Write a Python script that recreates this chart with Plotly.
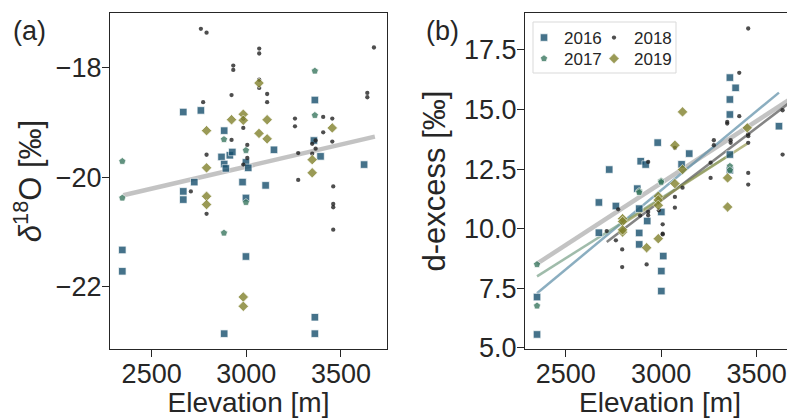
import plotly.graph_objects as go

# ---------------- data ----------------
# Panel (a): elevation [m] vs d18O [permil]
elev_a_2016 = [2667, 2760, 2883, 2869, 2913, 2926, 2883, 2892, 2998, 3010, 2980, 2998, 3102, 3146,
               2725, 2667, 2667, 2345, 2345, 2998, 2883, 3362, 3362, 3362, 3357, 3392, 3622]
d18o_2016 = [-18.81, -18.78, -19.15, -19.63, -19.60, -19.54, -19.76, -19.84, -19.73, -19.83, -20.09,
             -20.38, -20.15, -19.50, -20.09, -20.26, -20.41, -21.33, -21.72, -21.45, -22.86, -22.56,
             -22.86, -18.59, -19.33, -19.62, -19.77]

elev_a_2017 = [2345, 2345, 2882, 2882, 2998, 2998, 3362, 3362]
d18o_2017 = [-19.71, -20.38, -19.31, -21.02, -19.51, -20.46, -18.06, -18.87]

elev_a_2018 = [2760, 2790, 2790, 2790, 3068, 3068, 3068, 3068, 2931, 2931, 3674, 3639, 3639, 2772,
               2922, 2922, 3110, 3110, 2984, 2984, 2984, 3005, 3005, 3257, 3257, 3274, 3274, 3406,
               3406, 3454, 3454, 3348, 3348, 3366, 3366, 3459, 3459, 3459, 3459, 2707]
d18o_2018 = [-17.29, -17.36, -19.59, -20.67, -17.65, -17.74, -18.22, -18.37, -17.96, -18.04, -17.63,
             -18.46, -18.54, -18.63, -18.50, -19.32, -18.48, -18.63, -18.93, -19.10, -19.77, -19.41,
             -19.65, -18.93, -19.07, -19.56, -20.05, -18.90, -19.18, -18.93, -19.35, -19.39, -19.57,
             -19.33, -19.48, -20.17, -20.49, -20.55, -20.96, -20.26]

elev_a_2019 = [2790, 2790, 2790, 2790, 2922, 2984, 2984, 2984, 2984, 3067, 3067, 3110, 3110, 3348,
               3348, 3454]
d18o_2019 = [-19.15, -19.83, -20.35, -20.50, -18.95, -18.85, -18.96, -22.19, -22.36, -18.28, -19.20,
             -18.95, -19.30, -19.68, -19.92, -19.10]

fit_a_x = [2350, 3679]
fit_a_y = [-20.33, -19.26]

# Panel (b): elevation [m] vs d-excess [permil]
elev_b_2016 = [2350, 2350, 2674, 2674, 2728, 2763, 2875, 2885, 2885, 2885, 2893, 2919, 2927, 2982,
               3001, 3011, 3001, 3001, 3107, 3147, 3360, 3390, 3360, 3360, 3360, 3360, 3617]
dxs_2016 = [5.56, 7.13, 11.10, 9.83, 12.48, 10.95, 11.68, 10.84, 9.82, 9.34, 12.83, 12.69, 10.32,
            13.61, 10.70, 8.85, 8.22, 7.38, 12.70, 13.15, 16.34, 15.91, 15.42, 14.79, 13.11, 12.45,
            14.30]

elev_b_2017 = [2350, 2350, 2885, 2885, 3000, 3000, 3360, 3360]
dxs_2017 = [8.50, 6.76, 11.57, 11.52, 12.00, 11.95, 12.62, 12.45]

elev_b_2018 = [3456, 3456, 3456, 3456, 3456, 3456, 3409, 3409, 3346, 3346, 3364, 3364, 3276, 3276,
               3259, 3259, 3636, 3636, 3671, 3112, 3072, 3072, 3072, 2932, 2932, 2932, 2890, 2988,
               3008, 3008, 3008, 2924, 2796, 2796, 2763, 2715, 2775]
dxs_2018 = [18.40, 13.96, 13.88, 13.60, 12.34, 11.85, 16.54, 14.72, 14.48, 14.41, 13.71, 13.60,
            13.71, 13.50, 12.77, 12.13, 14.97, 13.11, 12.03, 11.72, 13.39, 11.33, 10.88, 12.80,
            10.70, 10.56, 10.55, 10.77, 10.18, 9.79, 9.76, 8.50, 9.13, 8.39, 9.51, 9.90, 10.81]

elev_b_2019 = [2798, 2798, 2798, 2798, 2924, 2985, 2985, 2985, 2985, 3072, 3072, 3112, 3112, 3348,
               3348, 3451]
dxs_2019 = [10.42, 10.30, 9.86, 9.95, 9.20, 9.58, 11.36, 11.20, 10.98, 13.50, 11.89, 14.90, 12.48,
            12.13, 10.91, 14.23]

fit_b_all_x = [2350, 3679]
fit_b_all_y = [8.53, 15.45]
fit_b_2016_x = [2350, 3617]
fit_b_2016_y = [7.29, 15.71]
fit_b_2017_x = [2350, 3360]
fit_b_2017_y = [8.00, 13.10]
fit_b_2018_x = [2715, 3671]
fit_b_2018_y = [9.44, 15.28]
fit_b_2019_x = [2798, 3451]
fit_b_2019_y = [10.20, 13.57]

years = ["2016", "2017", "2018", "2019"]
x_ticks = [2500, 3000, 3500]
y_ticks_a = [-18, -20, -22]
y_ticks_b = [5.0, 7.5, 10.0, 12.5, 15.0, 17.5]

# ---------------- styling ----------------
FONT = "Liberation Sans, Arial, Helvetica, sans-serif"
INK = "#262626"
C16, C17, C18, C19 = "#17506e", "#3a7760", "#222222", "#81822c"
styles = {
    "2016": dict(symbol="square", size=7.5, color=C16, opacity=0.8),
    "2017": dict(symbol="pentagon", size=7.5, color=C17, opacity=0.8),
    "2018": dict(symbol="circle", size=4.3, color=C18, opacity=0.8),
    "2019": dict(symbol="diamond", size=8, color=C19, opacity=0.8),
}

# the page body has an 8px margin: the figure starts at screen (8, 8)
OFF = 8
W, H = 795 - OFF, 418 - OFF
L, T, R, B = 110 - OFF, 13 - OFF, 0, 418 - 349
PW, PH = W - L - R, H - T - B


def fx(sx):
    return (sx - OFF - L) / PW


def fy(sy):
    return 1 - (sy - OFF - T) / PH


fig = go.Figure()


def add_line(x, y, color, width, xa, ya):
    fig.add_trace(go.Scatter(x=x, y=y, mode="lines", line=dict(color=color, width=width),
                             showlegend=False, hoverinfo="skip", xaxis=xa, yaxis=ya))


def add_pts(x, y, year, xa, ya, show, legend="legend"):
    s = styles[year]
    fig.add_trace(go.Scatter(
        x=x, y=y, mode="markers", name=year, showlegend=show, legend=legend,
        marker=dict(symbol=s["symbol"], size=s["size"], color=s["color"], opacity=s["opacity"],
                    line=dict(color="white", width=0.7 if year != "2018" else 0)),
        xaxis=xa, yaxis=ya))


# panel (a)
add_line(fit_a_x, fit_a_y, "rgba(175,175,175,0.75)", 4.5, "x", "y")
add_pts(elev_a_2016, d18o_2016, "2016", "x", "y", False)
add_pts(elev_a_2017, d18o_2017, "2017", "x", "y", False)
add_pts(elev_a_2018, d18o_2018, "2018", "x", "y", False)
add_pts(elev_a_2019, d18o_2019, "2019", "x", "y", False)

# panel (b)
add_line(fit_b_all_x, fit_b_all_y, "rgba(175,175,175,0.75)", 4.5, "x2", "y2")
add_line(fit_b_2016_x, fit_b_2016_y, "rgba(90,140,165,0.7)", 2.5, "x2", "y2")
add_line(fit_b_2017_x, fit_b_2017_y, "rgba(120,160,135,0.7)", 2.5, "x2", "y2")
add_line(fit_b_2018_x, fit_b_2018_y, "rgba(80,80,80,0.7)", 2.5, "x2", "y2")
add_line(fit_b_2019_x, fit_b_2019_y, "rgba(150,152,80,0.7)", 2.5, "x2", "y2")
add_pts(elev_b_2016, dxs_2016, "2016", "x2", "y2", True, "legend")
add_pts(elev_b_2017, dxs_2017, "2017", "x2", "y2", True, "legend3")
add_pts(elev_b_2018, dxs_2018, "2018", "x2", "y2", True, "legend2")
add_pts(elev_b_2019, dxs_2019, "2019", "x2", "y2", True, "legend4")

axis_common = dict(showline=True, linecolor=INK, linewidth=1.3, ticks="outside", ticklen=7,
                   tickwidth=1.3, tickcolor=INK, showgrid=False, zeroline=False,
                   tickfont=dict(family=FONT, size=27, color=INK))
title_font_x = dict(family=FONT, size=28, color=INK)
ytitle_font = dict(family=FONT, size=31, color=INK)

leg_common = dict(xanchor="left", yanchor="top", bgcolor="rgba(0,0,0,0)", borderwidth=0,
                  font=dict(family=FONT, size=17, color=INK))

fig.update_layout(
    width=W, height=H, margin=dict(l=L, r=R, t=T, b=B, autoexpand=False),
    paper_bgcolor="white", plot_bgcolor="white",
    font=dict(family=FONT, color=INK),
    xaxis=dict(domain=[0, 277 / PW], range=[2280, 3743], tickvals=x_ticks, mirror=True,
               anchor="y", ticklabelstandoff=-7,
               title=dict(text="Elevation [m]", font=title_font_x, standoff=12),
               **axis_common),
    yaxis=dict(domain=[0, 1], range=[-23.14, -17.0], tickvals=y_ticks_a, mirror=True,
               anchor="x", ticklabelstandoff=-5,
               title=dict(text="<i>δ</i><sup>18</sup>O [‰]", font=ytitle_font, standoff=12),
               **axis_common),
    xaxis2=dict(domain=[fx(525), 1], range=[2287, 3701], tickvals=x_ticks, mirror=True,
                anchor="y2", ticklabelstandoff=-7,
                title=dict(text="Elevation [m]", font=title_font_x, standoff=12),
                **axis_common),
    yaxis2=dict(domain=[0, 1], range=[4.95, 19.05], tickvals=y_ticks_b, tickformat=".1f",
                mirror=False, anchor="x2", ticklabelstandoff=-5,
                title=dict(text="d-excess [‰]", font=ytitle_font, standoff=9),
                **axis_common),
    legend=dict(x=fx(524), y=fy(20), **leg_common),
    legend3=dict(x=fx(524), y=fy(41), **leg_common),
    legend2=dict(x=fx(594), y=fy(20), **leg_common),
    legend4=dict(x=fx(594), y=fy(41), **leg_common),
    shapes=[dict(type="rect", xref="paper", yref="paper", x0=fx(533), x1=fx(676),
                 y0=fy(73), y1=fy(22), line=dict(color="#d9d9d9", width=1),
                 fillcolor="rgba(255,255,255,0.8)", layer="below")],
    annotations=[
        dict(text="(a)", x=fx(11), y=fy(31), xref="paper", yref="paper", xanchor="left",
             yanchor="middle", showarrow=False, font=dict(family=FONT, size=27, color=INK)),
        dict(text="(b)", x=fx(424), y=fy(31), xref="paper", yref="paper", xanchor="left",
             yanchor="middle", showarrow=False, font=dict(family=FONT, size=27, color=INK)),
    ],
)

fig.write_html("out.html")
